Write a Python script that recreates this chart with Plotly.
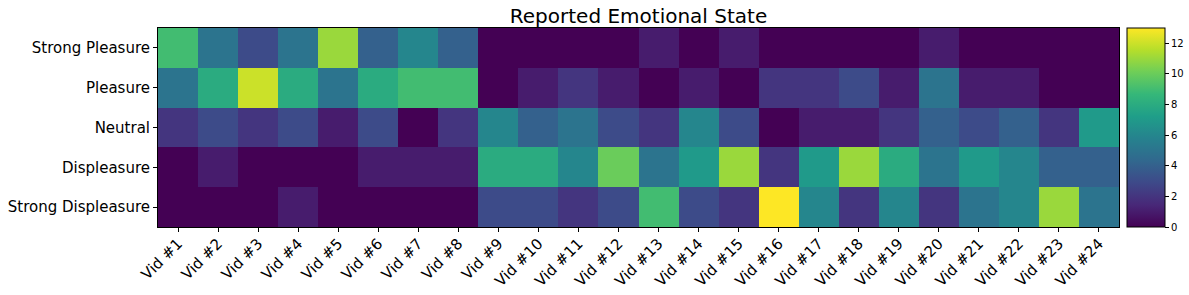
import plotly.graph_objects as go

videos = [f"Vid #{i}" for i in range(1, 25)]
states = ["Strong Pleasure", "Pleasure", "Neutral", "Displeasure", "Strong Displeasure"]

strong_pleasure = [9, 5, 3, 5, 11, 4, 6, 4, 0, 0, 0, 0, 1, 0, 1, 0, 0, 0, 0, 1, 0, 0, 0, 0]
pleasure = [5, 8, 12, 8, 5, 8, 9, 9, 0, 1, 2, 1, 0, 1, 0, 2, 2, 3, 1, 5, 1, 1, 0, 0]
neutral = [2, 3, 2, 3, 1, 3, 0, 2, 6, 4, 5, 3, 2, 6, 3, 0, 1, 1, 2, 4, 3, 4, 2, 7]
displeasure = [0, 1, 0, 0, 0, 1, 1, 1, 8, 8, 6, 10, 5, 7, 11, 2, 7, 11, 8, 5, 7, 6, 4, 4]
strong_displeasure = [0, 0, 0, 1, 0, 0, 0, 0, 3, 3, 2, 3, 9, 3, 2, 13, 6, 2, 6, 2, 5, 6, 11, 5]

z = [strong_pleasure, pleasure, neutral, displeasure, strong_displeasure]
cbar_ticks = [0, 2, 4, 6, 8, 10, 12]

W, H = 1189, 295
L, R, T, B = 158, 1119, 28, 227
CB_LEFT = 1127

fig = go.Figure(go.Heatmap(
    z=z, x=videos, y=states,
    colorscale="Viridis", zmin=0, zmax=13,
    colorbar=dict(
        xref="paper", x=(CB_LEFT - L) / (R - L), xanchor="left", xpad=0,
        yref="paper", y=0.5, yanchor="middle", ypad=0,
        len=1.0, lenmode="fraction",
        thickness=38, thicknessmode="pixels",
        outlinewidth=1, outlinecolor="black",
        tickvals=cbar_ticks, ticks="outside", ticklen=4, tickcolor="black",
        tickfont=dict(family="DejaVu Sans", size=10, color="black"),
    ),
))

fig.update_layout(
    width=W, height=H,
    margin=dict(l=L, r=W - R, t=T, b=H - B, autoexpand=False),
    paper_bgcolor="white", plot_bgcolor="white",
    title=dict(text="Reported Emotional State", xref="paper", x=0.5, xanchor="center",
               yref="container", y=1 - 16 / H, yanchor="middle",
               font=dict(family="DejaVu Sans", size=20, color="black")),
    font=dict(family="DejaVu Sans", color="black"),
)
fig.update_xaxes(
    automargin=False,
    tickangle=-45, tickfont=dict(size=15, family="DejaVu Sans", color="black"),
    ticks="outside", ticklen=4, tickcolor="black", ticklabelstandoff=-3,
    showline=True, linecolor="black", linewidth=1, mirror=True,
    showgrid=False, zeroline=False,
)
fig.update_yaxes(
    automargin=False,
    autorange="reversed",
    tickfont=dict(size=15, family="DejaVu Sans", color="black"),
    ticks="outside", ticklen=4, tickcolor="black",
    showline=True, linecolor="black", linewidth=1, mirror=True,
    showgrid=False, zeroline=False,
)

# remove the default 8px page margin so the figure fills the window exactly
fig.write_html("out.html", config={"displayModeBar": False},
               post_script="document.body.style.margin='0';")
